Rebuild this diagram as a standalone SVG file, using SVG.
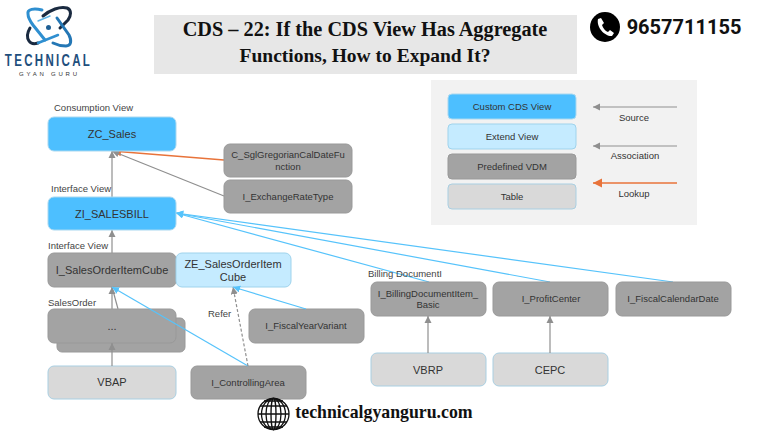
<svg xmlns="http://www.w3.org/2000/svg" width="768" height="432" viewBox="0 0 768 432">
<style>
text{font-family:"Liberation Sans",Arial,sans-serif;fill:#333;text-anchor:middle}
.n{stroke-width:1}
.b{fill:#4dbfff;stroke:#a9d8f0}
.e{fill:#c5ebff;stroke:#9fd3ec}
.g{fill:#a3a3a3;stroke:#999}
.t{fill:#d9d9d9;stroke:#a9cfe2}
.l{font-size:9.5px;fill:#444;text-anchor:start}
.s{font-size:9.5px}
.m{font-size:11px}
.c{fill:none;stroke-width:1.2}
.gr{stroke:#8f8f8f}.bl{stroke:#56c3fb}.or{stroke:#e8733a;stroke-width:1.5}
</style>
<defs>
<marker id="ag" markerWidth="7" markerHeight="7" refX="6" refY="3" orient="auto"><path d="M0 0L6 3L0 6Z" fill="#8f8f8f"/></marker>
<marker id="ab" markerWidth="7" markerHeight="7" refX="6" refY="3" orient="auto"><path d="M0 0L6 3L0 6Z" fill="#56c3fb"/></marker>
<marker id="ao" markerWidth="7" markerHeight="7" refX="6" refY="3" orient="auto"><path d="M0 0L6 3L0 6Z" fill="#e8733a"/></marker>
</defs>
<rect width="768" height="432" fill="#fff"/>
<g id="logo">
<g fill="none" stroke-linecap="round">
<path d="M42 10C34 8 27 9 28 14C28 18 30 21 33 25L45 40" stroke="#2f8fd0" stroke-width="3"/>
<path d="M43 16C50 10 60 6 67 8C72 10 71 16 68 20L60 28" stroke="#1a2a40" stroke-width="3"/>
<path d="M57 18L69 35C72 41 71 46 66 46C62 46 57 45 53 43" stroke="#2477b5" stroke-width="3"/>
<path d="M30 28C27 33 27 38 29 41C31 44 35 44 38 43" stroke="#1a2a40" stroke-width="3"/>
<path d="M38 43L58 35" stroke="#2f8fd0" stroke-width="2.500"/>
<path d="M38 21L50 16" stroke="#5cb3e6" stroke-width="1.500"/>
</g>
<circle cx="48.500" cy="27.500" r="2.500" fill="#1f5f94"/>
<text transform="translate(48.500 66) scale(0.72 1)" font-size="16" font-weight="700" letter-spacing="3.200" style="fill:#1f4f7d">TECHNICAL</text>
<text x="48" y="75.500" font-size="6" textLength="58" style="fill:#333">GYAN GURU</text>
</g>
<g id="title">
<rect x="154" y="15" width="423" height="59" fill="#e7e7e7"/>
<text x="365" y="36" font-size="20.300" font-weight="700" style="font-family:'Liberation Serif',serif;fill:#111">CDS – 22: If the CDS View Has Aggregate</text>
<text x="365" y="62" font-size="19.500" font-weight="700" style="font-family:'Liberation Serif',serif;fill:#111">Functions, How to Expand It?</text>
</g>
<g id="phone">
<circle cx="605" cy="27" r="15" fill="#000"/>
<path d="M598 19L601 18L604 23L602 25C603 28 605 31 608 32L610 30L614 33L612 36C606 37 596 28 598 19Z" fill="#fff"/>
<text x="684" y="34" font-size="20" font-weight="700" style="font-family:Roboto,sans-serif;fill:#111">9657711155</text>
</g>
<g id="connectors">
<path class="c gr" marker-end="url(#ag)" d="M112 197V151"/>
<path class="c or" marker-end="url(#ao)" d="M224 160L112 151"/>
<path class="c gr" marker-end="url(#ag)" d="M224 196L112 151"/>
<path class="c gr" marker-end="url(#ag)" d="M112 253V230"/>
<path class="c bl" marker-end="url(#ab)" d="M429 282L176 213"/>
<path class="c bl" marker-end="url(#ab)" d="M550 282L176 213"/>
<path class="c bl" marker-end="url(#ab)" d="M673 282L176 213"/>
<path class="c gr" marker-end="url(#ag)" d="M112 309V287"/>
<path class="c gr" d="M118 309L112 287"/>
</g>
<g id="n-back"><rect class="n g" x="57" y="318" width="128" height="34" rx="5"/></g>
<g id="n-zc"><rect class="n b" x="48" y="117" width="128" height="34" rx="6"/><text class="m" x="112" y="138">ZC_Sales</text></g>
<g id="n-zi"><rect class="n b" x="48" y="197" width="128" height="33" rx="6"/><text class="m" x="112" y="218">ZI_SALESBILL</text></g>
<g id="n-greg"><rect class="n g" x="224" y="144" width="128" height="33" rx="6"/><text class="s" x="288" y="158">C_SglGregorianCalDateFu</text><text class="s" x="288" y="170">nction</text></g>
<g id="n-exch"><rect class="n g" x="224" y="180" width="128" height="33" rx="6"/><text class="s" x="288" y="200">I_ExchangeRateType</text></g>
<g id="n-cube"><rect class="n g" x="48" y="253" width="128" height="34" rx="6"/><text class="m" x="112" y="274">I_SalesOrderItemCube</text></g>
<g id="n-ze"><rect class="n e" x="176" y="253" width="115" height="34" rx="6"/><text class="m" x="233" y="268">ZE_SalesOrderItem</text><text class="m" x="233" y="281">Cube</text></g>
<g id="n-dots"><rect class="n g" x="48" y="309" width="128" height="34" rx="6"/><text class="m" x="112" y="330">...</text></g>
<g id="n-vbap"><rect class="n t" x="48" y="366" width="128" height="33" rx="6"/><text class="m" x="112" y="386">VBAP</text></g>
<g id="n-ctrl"><rect class="n g" x="191" y="366" width="115" height="33" rx="6"/><text class="s" x="248" y="386">I_ControllingArea</text></g>
<g id="n-fyv"><rect class="n g" x="249" y="309" width="115" height="34" rx="6"/><text class="s" x="306" y="329">I_FiscalYearVariant</text></g>
<g id="n-bill"><rect class="n g" x="371" y="282" width="115" height="34" rx="6"/><text class="s" x="428" y="297">I_BillingDocumentItem_</text><text class="s" x="428" y="308">Basic</text></g>
<g id="n-profit"><rect class="n g" x="493" y="282" width="115" height="34" rx="6"/><text class="s" x="551" y="302">I_ProfitCenter</text></g>
<g id="n-fcd"><rect class="n g" x="616" y="282" width="115" height="34" rx="6"/><text class="s" x="673" y="302">I_FiscalCalendarDate</text></g>
<g id="n-vbrp"><rect class="n t" x="371" y="353" width="115" height="33" rx="6"/><text class="m" x="428" y="374">VBRP</text></g>
<g id="n-cepc"><rect class="n t" x="493" y="353" width="115" height="33" rx="6"/><text class="m" x="550" y="374">CEPC</text></g>
<g id="connectors2">
<path class="c gr" marker-end="url(#ag)" d="M112 366V343"/>
<path class="c bl" marker-end="url(#ab)" d="M248 366L112 287"/>
<path class="c gr" stroke-dasharray="3 2" marker-end="url(#ag)" d="M248 366L233 287"/>
<path class="c bl" marker-end="url(#ab)" d="M306 309L233 287"/>
<path class="c gr" marker-end="url(#ag)" d="M428 353V316"/>
<path class="c gr" marker-end="url(#ag)" d="M550 353V316"/>
</g>
<g id="labels">
<text class="l" x="54" y="111">Consumption View</text>
<text class="l" x="51" y="192">Interface View</text>
<text class="l" x="48" y="249">Interface View</text>
<text class="l" x="48" y="306">SalesOrder</text>
<text class="l" x="208" y="317">Refer</text>
<text class="l" x="368" y="277">Billing DocumentI</text>
</g>
<g id="legend">
<rect x="431" y="80" width="266" height="145" fill="#f2f2f2"/>
<rect class="n b" x="448" y="94" width="128" height="25" rx="4"/><text class="s" x="512" y="110">Custom CDS View</text>
<rect class="n e" x="448" y="124" width="128" height="25" rx="4"/><text class="s" x="512" y="140">Extend View</text>
<rect class="n g" x="448" y="154" width="128" height="25" rx="4"/><text class="s" x="512" y="170">Predefined VDM</text>
<rect class="n t" x="448" y="184" width="128" height="25" rx="4"/><text class="s" x="512" y="200">Table</text>
<path class="c gr" marker-end="url(#ag)" d="M677 107H593"/>
<path class="c gr" marker-end="url(#ag)" d="M677 146H593"/>
<path class="c or" marker-end="url(#ao)" d="M677 183H593"/>
<text class="s" x="634" y="121">Source</text>
<text class="s" x="635" y="159">Association</text>
<text class="s" x="634" y="197">Lookup</text>
</g>
<g id="website">
<g fill="none" stroke="#111" stroke-width="1.300"><circle cx="273.500" cy="414" r="15.500"/><ellipse cx="273.500" cy="414" rx="7.500" ry="15.500"/><ellipse cx="273.500" cy="414" rx="2.500" ry="15.500"/><ellipse cx="273.500" cy="414" rx="12" ry="15.500"/><path d="M258 414H289M260 406H287M260 422H287M264 401H283M264 427H283"/></g>
<text x="384" y="418" font-size="17.800" font-weight="700" style="font-family:'Liberation Serif',serif;fill:#111">technicalgyanguru.com</text>
</g>
</svg>
